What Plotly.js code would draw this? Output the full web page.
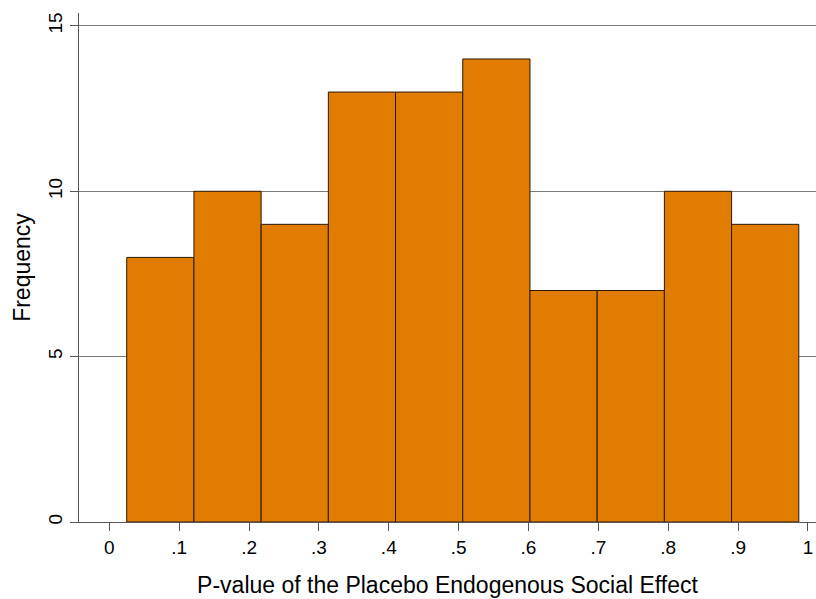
<!DOCTYPE html>
<html>
<head>
<meta charset="utf-8">
<script src="https://cdn.plot.ly/plotly-3.0.1.min.js"></script>
<style>html,body{margin:0;padding:0;background:#fff;}#chart{width:816px;height:599px;}</style>
</head>
<body>
<div id="chart"></div>
<script>
// Data
const binEdges = [0.0249, 0.1211, 0.2173, 0.3135, 0.4097, 0.5059, 0.6021, 0.6983, 0.7945, 0.8907, 0.9869];
const counts = [8, 10, 9, 13, 13, 14, 7, 7, 10, 9];
const xTickVals = [0, 0.1, 0.2, 0.3, 0.4, 0.5, 0.6, 0.7, 0.8, 0.9, 1];
const xTickText = ["0", ".1", ".2", ".3", ".4", ".5", ".6", ".7", ".8", ".9", "1"];
const yTickVals = [0, 5, 10, 15];
const yTickText = ["0", "5", "10", "15"];

const centers = counts.map((_, i) => (binEdges[i] + binEdges[i + 1]) / 2);
const widths = counts.map((_, i) => binEdges[i + 1] - binEdges[i]);

const trace = {
  type: 'bar',
  x: centers,
  y: counts,
  width: widths,
  marker: { color: '#E07D00', line: { color: '#2a1a08', width: 1 } },
  hoverinfo: 'x+y'
};

const layout = {
  width: 816, height: 599,
  margin: { l: 79, r: 0, t: 13, b: 77 },
  paper_bgcolor: '#ffffff',
  plot_bgcolor: '#ffffff',
  font: { family: 'Liberation Sans, Arial, sans-serif', color: '#000', size: 19 },
  showlegend: false,
  bargap: 0,
  xaxis: {
    range: [-0.0434, 1.0115],
    tickvals: xTickVals, ticktext: xTickText,
    ticks: 'outside', ticklen: 8, tickwidth: 1, tickcolor: '#555',
    showline: true, linecolor: '#555', linewidth: 1,
    showgrid: false, zeroline: false,
    tickfont: { size: 19 },
    title: { text: 'P-value of the Placebo Endogenous Social Effect', font: { size: 23 }, standoff: 20 }
  },
  yaxis: {
    range: [0, 15.39],
    tickvals: yTickVals, ticktext: yTickText,
    tickangle: -90,
    ticks: 'outside', ticklen: 8, tickwidth: 1, tickcolor: '#555',
    showline: true, linecolor: '#555', linewidth: 1,
    showgrid: true, gridcolor: '#7a7a7a', gridwidth: 1,
    zeroline: false,
    tickfont: { size: 19 },
    title: { text: 'Frequency', font: { size: 23 }, standoff: 8 }
  }
};

Plotly.newPlot('chart', [trace], layout, { displayModeBar: false, staticPlot: true });
</script>
</body>
</html>
